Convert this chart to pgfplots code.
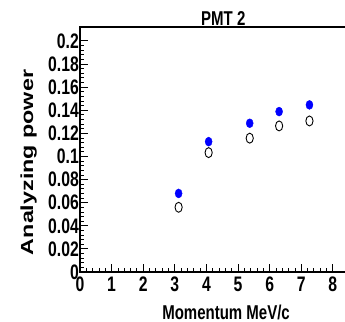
\documentclass[border=0pt]{standalone}
\usepackage{fontspec}
\setmainfont{Liberation Sans}[FakeStretch=0.75]
\newfontfamily\ylabfont{Liberation Sans}
\usepackage{pgfplots}
\pgfplotsset{compat=1.18}
\definecolor{rootblue}{RGB}{0,0,255}
\begin{document}
\begin{tikzpicture}
\useasboundingbox (0,0) rectangle (345bp,322bp);
\begin{axis}[
  at={(80bp,50bp)}, anchor=south west,
  scale only axis,
  width=268bp, height=245bp,
  xmin=0, xmax=8.48, ymin=0, ymax=0.212,
  xtick={0,1,...,8},
  ytick={0,0.02,...,0.201},
  minor x tick num=4, minor y tick num=4,
  xtick pos=bottom, ytick pos=left,
  tick align=inside,
  major tick length=8bp, minor tick length=4bp,
  every tick/.style={black, line width=0.8pt},
  axis line style={line width=1.2pt},
  /pgf/number format/assume math mode=true,
  /pgf/number format/fixed,
  /pgf/number format/precision=2,
  scaled y ticks=false,
  yticklabel style={font=\bfseries\fontsize{21bp}{21bp}\selectfont, anchor=east, inner sep=0pt, xshift=-1bp},
  xticklabel style={font=\bfseries\fontsize{21bp}{21bp}\selectfont, anchor=north, inner sep=0pt, yshift=-5bp},
  xlabel={Momentum MeV/c},
  xlabel style={font=\bfseries\fontsize{20bp}{20bp}\selectfont, at={([yshift=-47bp]rel axis cs:0.545,0)}, anchor=base, inner sep=0pt},
  ylabel={\scalebox{1}[0.75]{Analyzing power}},
  ylabel style={font=\ylabfont\bfseries\fontsize{23.3bp}{23.3bp}\selectfont, at={([xshift=-47bp]rel axis cs:0,0.447)}, anchor=base, inner sep=0pt},
]
\addplot[only marks, mark=*, color=rootblue, mark size=4.5bp, mark options={xscale=0.78, fill=rootblue}]
  coordinates {(3.12,0.068) (4.07,0.1128) (5.37,0.1287) (6.30,0.1388) (7.26,0.1446)};
\addplot[only marks, mark=o, color=black, mark size=5bp, mark options={xscale=0.72, line width=0.9pt}]
  coordinates {(3.12,0.056) (4.07,0.1033) (5.37,0.1158) (6.30,0.1264) (7.26,0.1307)};
\end{axis}
\node[anchor=base, inner sep=0pt, font=\bfseries\fontsize{20bp}{20bp}\selectfont] at (223.3bp,296bp) {PMT 2};
\end{tikzpicture}
\end{document}
